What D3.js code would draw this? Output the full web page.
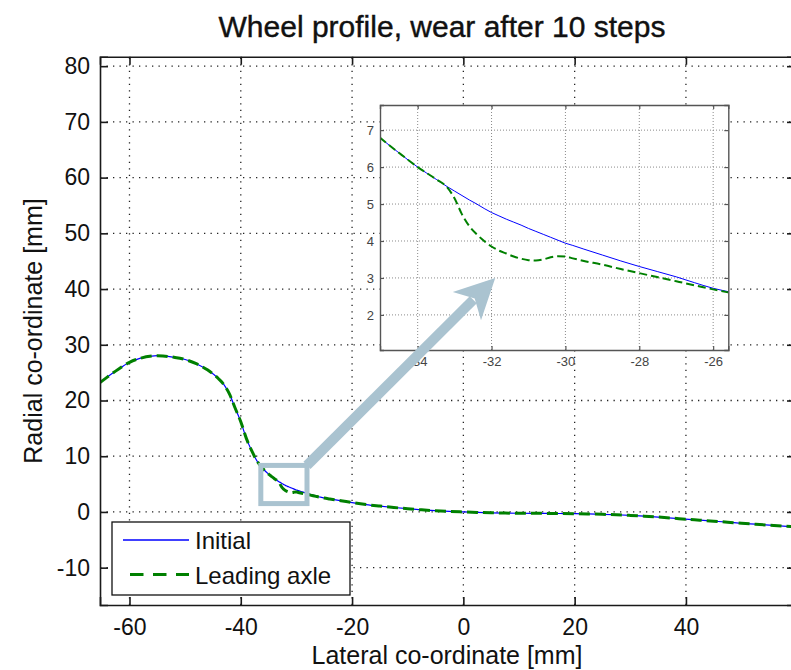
<!DOCTYPE html>
<html>
<head>
<meta charset="utf-8">
<script src="https://cdn.jsdelivr.net/npm/d3@7/dist/d3.min.js"></script>
<style>
  html, body { margin: 0; padding: 0; background: #fff; }
  svg { display: block; font-family: "Liberation Sans", Arial, sans-serif; }
</style>
</head>
<body>
<svg id="chart" width="791" height="670"></svg>
<script>
// Lateral positions along the wheel profile [mm]
const lateral = [
  -65.3, -64, -62, -60, -58, -56, -55, -54, -52, -50, -48, -46, -44, -43, -42, -41, -40, -39, -38, -37, -36,
  -35, -34.5, -34, -33.5, -33.2, -33.0, -32.8, -32.6, -32.4, -32.2, -32.0, -31.8, -31.6, -31.4, -31.2, -31.0,
  -30.8, -30.6, -30.4, -30.2, -30.0, -29.8, -29.5, -29.0, -28.5, -28.0, -27.5, -27.0, -26.5, -26.0, -25.5, -25,
  -24, -22, -20, -17.5, -15, -12.5, -10, -7.5, -5, -2.5, 0, 2.5, 5, 7.5, 10, 12.5, 15, 17.5, 20, 22.5, 25,
  27.5, 30, 32.5, 35, 37.5, 40, 42.5, 45, 47.5, 50, 52.5, 55, 57.5, 60
];

// Radial co-ordinate of the unworn profile [mm]
const initialProfile = [
  23.2, 24.2, 25.6, 26.85, 27.6, 27.98, 28.05, 28.0, 27.75, 27.35, 26.6, 25.5, 23.9, 22.8, 21.1, 18.6, 16.2, 13.2, 10.9, 9.0, 7.75,
  6.78, 6.38, 6.0, 5.67, 5.47, 5.35, 5.23, 5.11, 5.0, 4.88, 4.77, 4.68, 4.59, 4.51, 4.43, 4.34,
  4.26, 4.18, 4.10, 4.02, 3.94, 3.88, 3.78, 3.62, 3.46, 3.31, 3.17, 3.03, 2.87, 2.72, 2.61, 2.50,
  2.33, 2.02, 1.68, 1.33, 1.05, 0.80, 0.58, 0.38, 0.22, 0.09, 0, -0.08, -0.15, -0.20, -0.23, -0.25, -0.26, -0.28, -0.31, -0.36, -0.42,
  -0.50, -0.62, -0.76, -0.92, -1.10, -1.30, -1.48, -1.66, -1.84, -2.04, -2.20, -2.37, -2.54, -2.70
];

// Radial co-ordinate after 10 wear steps, leading axle [mm]
const leadingAxle = [
  23.2, 24.2, 25.6, 26.85, 27.6, 27.98, 28.05, 28.0, 27.75, 27.35, 26.6, 25.5, 23.9, 22.8, 21.1, 18.6, 16.2, 13.2, 10.9, 9.0, 7.75,
  6.78, 6.38, 6.0, 5.67, 5.45, 5.15, 4.72, 4.40, 4.18, 4.00, 3.85, 3.74, 3.66, 3.58, 3.52, 3.48,
  3.47, 3.50, 3.56, 3.59, 3.58, 3.53, 3.46, 3.36, 3.24, 3.13, 3.02, 2.91, 2.80, 2.69, 2.59, 2.49,
  2.33, 2.02, 1.68, 1.33, 1.05, 0.80, 0.58, 0.38, 0.22, 0.09, 0, -0.08, -0.15, -0.20, -0.23, -0.25, -0.26, -0.28, -0.31, -0.36, -0.42,
  -0.50, -0.62, -0.76, -0.92, -1.10, -1.30, -1.48, -1.66, -1.84, -2.04, -2.20, -2.37, -2.54, -2.70
];

// Tick values
const mainXTicks = [-60, -40, -20, 0, 20, 40];
const mainYTicks = [-10, 0, 10, 20, 30, 40, 50, 60, 70, 80];
const insetXTicks = [-34, -32, -30, -28, -26];
const insetYTicks = [2, 3, 4, 5, 6, 7];

// Zoomed region marked on the main axes, and where the pointer lands in the inset
const zoomBoxX = [-36.4, -28.1];
const zoomBoxY = [1.5, 8.35];
const pointerTarget = [-31.9, 3.0];

const seriesNames = ["Initial", "Leading axle"];

const svg = d3.select("#chart");
const FONT = "'Liberation Sans', Arial, sans-serif";
const BLUE = "#0000ff", GREEN = "#008000", STEEL = "#aac3d0";

svg.append("rect").attr("width", 791).attr("height", 670).attr("fill", "#fff");

// ---------- main axes ----------
const M = { left: 100, right: 795, top: 56.7, bottom: 605 };
const x = d3.scaleLinear().domain([-65.3, 59.6]).range([M.left, M.right]);
const y = d3.scaleLinear().domain([-16.7, 81.7]).range([M.bottom, M.top]);

const defs = svg.append("defs");
defs.append("clipPath").attr("id", "mainClip")
  .append("rect").attr("x", M.left).attr("y", M.top)
  .attr("width", M.right - M.left).attr("height", M.bottom - M.top);

const grid = svg.append("g").attr("stroke", "#222").attr("stroke-width", 1.3)
  .attr("stroke-dasharray", "1.3,5.2");
grid.selectAll("line.v").data(mainXTicks).join("line")
  .attr("x1", d => x(d)).attr("x2", d => x(d)).attr("y1", M.bottom).attr("y2", M.top);
grid.selectAll("line.h").data(mainYTicks).join("line")
  .attr("y1", d => y(d)).attr("y2", d => y(d)).attr("x1", M.left).attr("x2", M.right);

const rows = lateral.map((v, i) => ({ x: v, a: initialProfile[i], b: leadingAxle[i] }));
const lineA = d3.line().x(d => x(d.x)).y(d => y(d.a)).curve(d3.curveMonotoneX);
const lineB = d3.line().x(d => x(d.x)).y(d => y(d.b)).curve(d3.curveMonotoneX);

const curves = svg.append("g").attr("clip-path", "url(#mainClip)");
curves.append("path").datum(rows).attr("d", lineA)
  .attr("fill", "none").attr("stroke", BLUE).attr("stroke-width", 1.2);
curves.append("path").datum(rows).attr("d", lineB)
  .attr("fill", "none").attr("stroke", GREEN).attr("stroke-width", 3)
  .attr("stroke-dasharray", "11,5");

// axes frame and inward ticks
const axisG = svg.append("g");
const fmtMinus = s => String(s).replace("\u2212", "-");
const bottomAxis = d3.axisBottom(x).tickValues(mainXTicks).tickSize(-8).tickPadding(14).tickFormat(d => fmtMinus(d));
const topAxis = d3.axisTop(x).tickValues(mainXTicks).tickSize(-8).tickFormat("");
const leftAxis = d3.axisLeft(y).tickValues(mainYTicks).tickSize(-8).tickPadding(10).tickFormat(d => fmtMinus(d));
const rightAxis = d3.axisRight(y).tickValues(mainYTicks).tickSize(-8).tickFormat("");

function styleAxis(g, size, color) {
  g.select(".domain").attr("stroke", color).attr("stroke-width", 1.6);
  g.selectAll(".tick line").attr("stroke", color).attr("stroke-width", 1.6);
  g.selectAll(".tick text").attr("fill", "#111").attr("font-size", size).attr("font-family", FONT);
}
axisG.append("g").attr("transform", `translate(0,${M.bottom})`).call(bottomAxis)
  .call(g => styleAxis(g, 23, "#1a1a1a"));
axisG.append("g").attr("transform", `translate(0,${M.top})`).call(topAxis)
  .call(g => styleAxis(g, 23, "#1a1a1a"));
axisG.append("g").attr("transform", `translate(${M.left},0)`).call(leftAxis)
  .call(g => styleAxis(g, 23, "#1a1a1a"));
axisG.append("g").attr("transform", `translate(${M.right},0)`).call(rightAxis)
  .call(g => styleAxis(g, 23, "#1a1a1a"));

// zoom box on the flange root
svg.append("rect")
  .attr("x", x(zoomBoxX[0])).attr("y", y(zoomBoxY[1]))
  .attr("width", x(zoomBoxX[1]) - x(zoomBoxX[0])).attr("height", y(zoomBoxY[0]) - y(zoomBoxY[1]))
  .attr("fill", "none").attr("stroke", STEEL).attr("stroke-width", 5);

// legend
const lg = svg.append("g");
lg.append("rect").attr("x", 112).attr("y", 522).attr("width", 238).attr("height", 73)
  .attr("fill", "#fff").attr("stroke", "#111").attr("stroke-width", 1.3);
lg.append("line").attr("x1", 123).attr("x2", 189).attr("y1", 540).attr("y2", 540)
  .attr("stroke", BLUE).attr("stroke-width", 1.3);
lg.append("line").attr("x1", 123).attr("x2", 189).attr("y1", 574.5).attr("y2", 574.5)
  .attr("stroke", GREEN).attr("stroke-width", 3)
  .attr("stroke-dasharray", "13.5,9.5").attr("stroke-dashoffset", 16);
lg.selectAll("text").data(seriesNames).join("text")
  .attr("x", 195).attr("y", (d, i) => 549 + i * 35)
  .attr("font-size", 24).attr("font-family", FONT).attr("fill", "#111").text(d => d);

// ---------- inset axes ----------
const I = { left: 380, right: 728.3, top: 105, bottom: 350 };
const xi = d3.scaleLinear().domain([-35.02, -25.59]).range([I.left, I.right]);
const yi = d3.scaleLinear().domain([1.05, 7.68]).range([I.bottom, I.top]);

defs.append("clipPath").attr("id", "insetClip")
  .append("rect").attr("x", I.left).attr("y", I.top)
  .attr("width", I.right - I.left).attr("height", I.bottom - I.top);

svg.append("rect").attr("x", I.left).attr("y", I.top)
  .attr("width", I.right - I.left).attr("height", I.bottom - I.top).attr("fill", "#fff");

const igrid = svg.append("g").attr("stroke", "#8a8a8a").attr("stroke-width", 1)
  .attr("stroke-dasharray", "1,2");
igrid.selectAll("line.v").data(insetXTicks).join("line")
  .attr("x1", d => xi(d)).attr("x2", d => xi(d)).attr("y1", I.bottom).attr("y2", I.top);
igrid.selectAll("line.h").data(insetYTicks).join("line")
  .attr("y1", d => yi(d)).attr("y2", d => yi(d)).attr("x1", I.left).attr("x2", I.right);

const lineAi = d3.line().x(d => xi(d.x)).y(d => yi(d.a)).curve(d3.curveMonotoneX);
const lineBi = d3.line().x(d => xi(d.x)).y(d => yi(d.b)).curve(d3.curveMonotoneX);
const icurves = svg.append("g").attr("clip-path", "url(#insetClip)");
icurves.append("path").datum(rows).attr("d", lineAi)
  .attr("fill", "none").attr("stroke", BLUE).attr("stroke-width", 1);
icurves.append("path").datum(rows).attr("d", lineBi)
  .attr("fill", "none").attr("stroke", GREEN).attr("stroke-width", 2)
  .attr("stroke-dasharray", "8,4");

function styleInset(g) {
  g.select(".domain").attr("stroke", "#555").attr("stroke-width", 1.4);
  g.selectAll(".tick line").attr("stroke", "#555").attr("stroke-width", 1.2);
  g.selectAll(".tick text").attr("fill", "#444").attr("font-size", 13).attr("font-family", FONT);
}
svg.append("g").attr("transform", `translate(0,${I.bottom})`)
  .call(d3.axisBottom(xi).tickValues(insetXTicks).tickSize(-4).tickPadding(7).tickFormat(d => fmtMinus(d)))
  .call(styleInset);
svg.append("g").attr("transform", `translate(0,${I.top})`)
  .call(d3.axisTop(xi).tickValues(insetXTicks).tickSize(-4).tickFormat(""))
  .call(styleInset);
svg.append("g").attr("transform", `translate(${I.left},0)`)
  .call(d3.axisLeft(yi).tickValues(insetYTicks).tickSize(-4).tickPadding(6).tickFormat(d3.format("d")))
  .call(styleInset);
svg.append("g").attr("transform", `translate(${I.right},0)`)
  .call(d3.axisRight(yi).tickValues(insetYTicks).tickSize(-4).tickFormat(""))
  .call(styleInset);

// ---------- pointer from the zoom box to the inset ----------
const S = [x(zoomBoxX[1]), y(zoomBoxY[1])];
const T = [xi(pointerTarget[0]), yi(pointerTarget[1])];
const dx = T[0] - S[0], dy = T[1] - S[1], len = Math.hypot(dx, dy);
const u = [dx / len, dy / len], n = [-u[1], u[0]];
const headLen = 40, headHalf = 20, notch = 29;
const base = [T[0] - headLen * u[0], T[1] - headLen * u[1]];
const notchPt = [T[0] - notch * u[0], T[1] - notch * u[1]];
svg.append("line")
  .attr("x1", S[0]).attr("y1", S[1])
  .attr("x2", notchPt[0] - 2 * u[0]).attr("y2", notchPt[1] - 2 * u[1])
  .attr("stroke", STEEL).attr("stroke-width", 10);
svg.append("polygon")
  .attr("points", [T,
    [base[0] + headHalf * n[0], base[1] + headHalf * n[1]],
    notchPt,
    [base[0] - headHalf * n[0], base[1] - headHalf * n[1]]].map(p => p.join(",")).join(" "))
  .attr("fill", STEEL);

// ---------- titles ----------
svg.append("text").attr("x", 442).attr("y", 36.5).attr("text-anchor", "middle")
  .attr("font-size", 30).attr("font-family", FONT).attr("fill", "#111")
  .attr("stroke", "#111").attr("stroke-width", 0.4)
  .text("Wheel profile, wear after 10 steps");
svg.append("text").attr("x", 447).attr("y", 664).attr("text-anchor", "middle")
  .attr("font-size", 25).attr("font-family", FONT).attr("fill", "#111")
  .text("Lateral co-ordinate [mm]");
svg.append("text").attr("transform", "translate(42,331) rotate(-90)").attr("text-anchor", "middle")
  .attr("font-size", 25).attr("font-family", FONT).attr("fill", "#111")
  .text("Radial co-ordinate [mm]");
</script>
</body>
</html>
